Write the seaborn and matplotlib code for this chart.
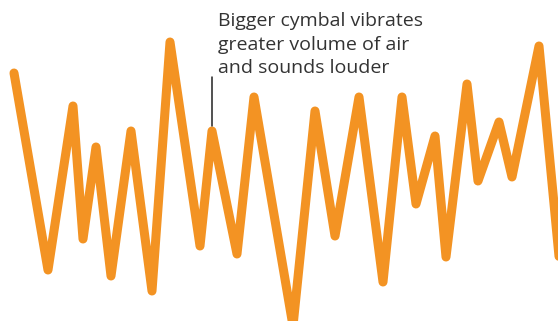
import seaborn as sns
import pandas as pd
import matplotlib.pyplot as plt

sns.set_style("white")
plt.rcParams['font.family'] = ['Open Sans', 'DejaVu Sans']

# sound wave: time (px units) and air pressure (up = positive)
time = [14, 48, 73, 83, 96, 111, 131, 152, 170, 200, 212, 237, 254, 293,
        315, 335, 359, 383, 402, 416, 435, 446, 467, 478, 499, 512, 539, 566]
pressure = [97, -100, 64, -69, 23, -106, 39, -121, 128, -76, 39, -84, 73, -156,
            59, -66, 73, -112, 73, -34, 34, -87, 86, -11, 48, -7, 124, -160]

note_lines = ["Bigger cymbal vibrates",
              "greater volume of air",
              "and sounds louder"]
note_x = 212
note_y = 39

df = pd.DataFrame({"time": time, "pressure": pressure})

fig = plt.figure(figsize=(5.58, 3.21), dpi=100)
ax = fig.add_axes([0, 0, 1, 1])

sns.lineplot(data=df, x="time", y="pressure", sort=False, ax=ax,
             color="#F39323", linewidth=6.5, solid_joinstyle="round",
             solid_capstyle="round")

# leader line from the text down to the peak
ax.plot([note_x, note_x], [note_y + 5, 93], color="#222222", linewidth=1.1)
ax.text(note_x + 6, 158, "\n".join(note_lines), fontsize=14, color="#333333",
        va="top", ha="left", linespacing=1.4)

ax.set_xlim(0, 558)
ax.set_ylim(-151, 170)
ax.axis("off")

fig.savefig("out.png", dpi=100)
